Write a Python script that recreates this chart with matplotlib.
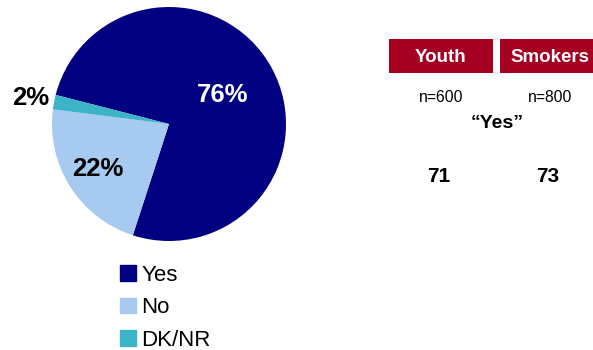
import matplotlib.pyplot as plt
from matplotlib.patches import Patch, Rectangle
import numpy as np

plt.rcParams['font.family'] = ['Liberation Sans', 'DejaVu Sans']

answers = ['Yes', 'No', 'DK/NR']
shares = [76, 22, 2]
colors = ['#000080', '#A6CAF0', '#3CB4C8']
label_colors = ['white', 'black', 'black']
label_dist = [0.52, 0.72, 1.20]

groups = ['Youth', 'Smokers']
sample_sizes = [600, 800]
yes_scores = [71, 73]

W, H = 593, 350
fig = plt.figure(figsize=(W / 100, H / 100), dpi=100)

# pie, centre (169, 124) px, radius 117 px
cx, cy, r = 169, 124, 117
ax = fig.add_axes([(cx - r) / W, (H - cy - r) / H, 2 * r / W, 2 * r / H])
wedges, _ = ax.pie(shares, colors=colors, startangle=165.6, counterclock=False,
                   radius=1, wedgeprops=dict(linewidth=0))
ax.set_xlim(-1, 1)
ax.set_ylim(-1, 1)
ax.axis('off')
for w, v, c, d in zip(wedges, shares, label_colors, label_dist):
    mid = np.deg2rad((w.theta1 + w.theta2) / 2)
    ax.text(d * np.cos(mid), d * np.sin(mid), f'{v}%', color=c, fontsize=18.5,
            fontweight='bold', ha='center', va='center', clip_on=False)

fig.legend(handles=[Patch(color=c, label=a) for a, c in zip(answers, colors)],
           loc='upper left', bbox_to_anchor=(120 / W, 1 - 265 / H), frameon=False,
           fontsize=16, handlelength=0.72, handleheight=0.72, handletextpad=0.25,
           labelspacing=0.51, borderaxespad=0, borderpad=0)

# table on the right, pixel coordinates
tx = fig.add_axes([0, 0, 1, 1])
tx.set_xlim(0, W)
tx.set_ylim(H, 0)
tx.axis('off')
boxes = [(389, 493), (500, 602)]
col_x = [441, 550]
for (x0, x1), xc, g, n, s in zip(boxes, col_x, groups, sample_sizes, yes_scores):
    tx.add_patch(Rectangle((x0, 39), x1 - x0, 34, color='#A50021', lw=0))
    tx.text(xc, 57, g, color='white', fontsize=13.5, fontweight='bold',
            ha='center', va='center')
    tx.text(xc, 97, f'n={n}', fontsize=11.3, ha='center', va='center')
    tx.text(xc - 2, 176, str(s), fontsize=15, fontweight='bold',
            ha='center', va='center')
tx.text(497, 124, '\u201cYes\u201d', fontsize=14, fontweight='bold',
        ha='center', va='center')

fig.savefig('out.png', dpi=100)
